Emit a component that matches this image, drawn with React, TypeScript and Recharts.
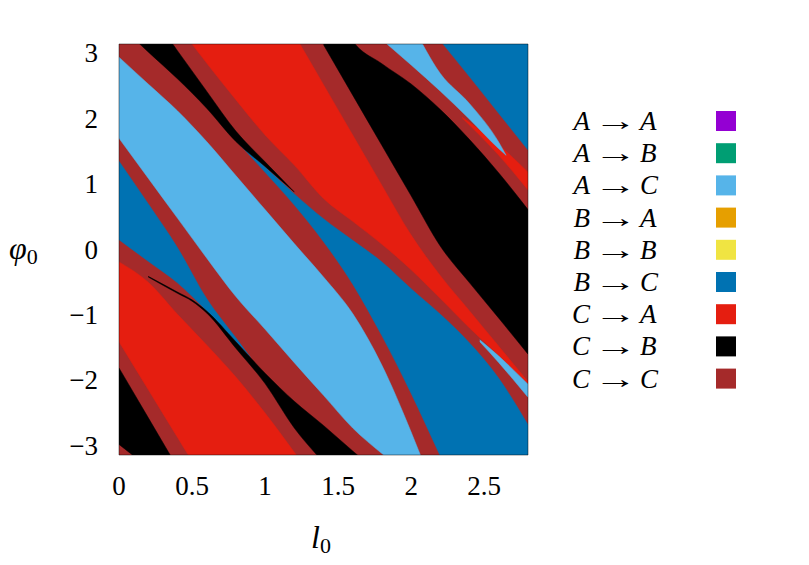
import { ComposedChart, Area, XAxis, YAxis, CartesianGrid, ReferenceArea } from 'recharts';

type Band = [number, number, number][]; // [l0, lower phi0, upper phi0]

const PI = Math.PI;

// transition colours (C -> C is the background of the map)
const legendFrom = ['A', 'A', 'A', 'B', 'B', 'B', 'C', 'C', 'C'];
const legendTo = ['A', 'B', 'C', 'A', 'B', 'C', 'A', 'B', 'C'];
const legendColors = ['#9400d3', '#009e73', '#56b4e9', '#e69f00', '#f0e442', '#0072b2', '#e51e10', '#000000', '#a52a2a'];

const CA = '#e51e10';
const CB = '#000000';
const AC = '#56b4e9';
const BC = '#0072b2';
const CC = '#a52a2a';

const xTicks = [0, 0.5, 1, 1.5, 2, 2.5];
const yTicks = [-3, -2, -1, 0, 1, 2, 3];

// bands, lower left to upper right
const blackCorner: Band = [[0, -2.98, -1.81], [0.2, -3.33, -2.57], [0.4, -3.67, -3.33]];
const redLow: Band = [
  [0, -1.41, -0.19], [0.2, -2.14, -0.5], [0.4, -2.87, -0.99], [0.6, -3.6, -1.46],
  [0.8, -4.33, -1.95], [1.0, -5.06, -2.5], [1.2, -5.8, -3.1], [1.3, -6.2, -3.41],
];
const blueLeft: Band = [
  [0, 0.15, 1.35], [0.2, -0.18, 0.7], [0.4, -0.51, 0.03], [0.6, -0.94, -0.75],
  [0.8, -1.41, -1.35], [0.9, -1.65, -1.65],
];
const blackMid: Band = [
  [0.2, -0.42, -0.41], [0.4, -0.67, -0.65], [0.5, -0.79, -0.77],
  [0.6, -0.97, -0.94], [0.8, -1.51, -1.41], [1.0, -2.05, -1.89], [1.2, -2.73, -2.32],
  [1.4, -3.26, -2.69], [1.6, -3.79, -3.08], [1.7, -4.05, -3.27],
];
const lightMain: Band = [
  [0, 1.7, 2.94], [0.2, 1.09, 2.53], [0.4, 0.48, 2.12], [0.6, -0.13, 1.65],
  [0.8, -0.72, 1.13], [1.0, -1.22, 0.61], [1.2, -1.73, 0.09], [1.4, -2.23, -0.42],
  [1.6, -2.73, -0.98], [1.8, -3.12, -1.77], [2.0, -3.47, -2.79], [2.1, -3.66, -3.35],
];
const blueMain: Band = [
  [0.78, 1.72, 1.72], [1.0, 1.18, 1.26], [1.2, 0.68, 0.85], [1.4, 0.12, 0.47],
  [1.6, -0.53, 0.14], [1.8, -1.32, -0.19], [2.0, -2.2, -0.6], [2.2, -3.16, -0.99],
  [2.4, -4.13, -1.43], [2.6, -5.05, -1.97], [2.8, -5.96, -2.68],
];
const blackTop: Band = [
  [0.1, 3.23, 3.98], [0.2, 3.02, 3.67], [0.4, 2.61, 3.04], [0.6, 2.16, 2.42],
  [0.8, 1.65, 1.81], [1.0, 1.27, 1.34], [1.2, 0.88, 0.88],
];
const redMain: Band = [
  [0.5, 3.14, 5.98], [0.6, 2.85, 5.6], [0.8, 2.29, 4.83], [1.0, 1.75, 4.06],
  [1.2, 1.29, 3.29], [1.4, 0.78, 2.52], [1.6, 0.43, 1.75], [1.8, 0.08, 0.98],
  [2.0, -0.31, 0.22], [2.2, -0.75, -0.4], [2.4, -1.2, -0.94], [2.6, -1.62, -1.48],
  [2.8, -2.05, -2.02],
];
const blackRight: Band = [
  [1.4, 3.13, 4.11], [1.6, 2.36, 3.19], [1.8, 1.59, 2.84], [2.0, 0.82, 2.53],
  [2.2, 0.05, 2.14], [2.4, -0.51, 1.68], [2.6, -1.05, 1.17], [2.8, -1.6, 0.61],
];
const redSliver: Band = [[2.35, 2.01, 2.02], [2.6, 1.44, 1.6], [2.8, 0.91, 1.18]];
const lightTop: Band = [
  [1.83, 3.15, 4.09], [2.0, 2.82, 3.45], [2.2, 2.42, 2.69], [2.4, 1.99, 2.23],
  [2.6, 1.54, 1.64], [2.65, 1.44, 1.44],
];
const blueTop: Band = [[2.2, 3.19, 5], [2.4, 2.64, 5], [2.6, 2.08, 5], [2.8, 1.52, 5]];
const lightSliver: Band = [[2.47, -1.41, -1.38], [2.6, -1.73, -1.63], [2.8, -2.26, -2.06]];

const bands: { id: string; data: Band; color: string }[] = [
  { id: 'blackCorner', data: blackCorner, color: CB },
  { id: 'redLow', data: redLow, color: CA },
  { id: 'blueLeft', data: blueLeft, color: BC },
  { id: 'blackMid', data: blackMid, color: CB },
  { id: 'lightMain', data: lightMain, color: AC },
  { id: 'blueMain', data: blueMain, color: BC },
  { id: 'blackTop', data: blackTop, color: CB },
  { id: 'redMain', data: redMain, color: CA },
  { id: 'blackRight', data: blackRight, color: CB },
  { id: 'redSliver', data: redSliver, color: CA },
  { id: 'lightTop', data: lightTop, color: AC },
  { id: 'blueTop', data: blueTop, color: BC },
  { id: 'lightSliver', data: lightSliver, color: AC },
];

const FONT = '"Liberation Serif", "DejaVu Serif", serif';

const fmt = (v: number) => (v < 0 ? `\u2212${Math.abs(v)}` : `${v}`);

const XTick = ({ x, y, payload }: any) => (
  <text x={x} y={y + 40} textAnchor="middle" fontFamily={FONT} fontSize={27} fill="#000">
    {fmt(payload.value)}
  </text>
);

const YTick = ({ x, y, payload }: any) => (
  <text x={x - 21} y={y + 9} textAnchor="end" fontFamily={FONT} fontSize={27} fill="#000">
    {fmt(payload.value)}
  </text>
);

export default function App() {
  return (
    <div style={{ position: 'absolute', left: 0, top: 0, width: 809, height: 565, background: '#fff' }}>
      <ComposedChart width={809} height={565} margin={{ top: 44, right: 281, bottom: 50, left: 59 }}>
        <CartesianGrid horizontal={false} vertical={false} fill={CC} stroke="none" />
        <XAxis
          type="number"
          dataKey="x"
          domain={[0, 2.8]}
          ticks={xTicks}
          allowDataOverflow
          axisLine={false}
          tickLine={false}
          tickSize={0}
          tickMargin={0}
          height={60}
          tick={<XTick />}
        />
        <YAxis
          type="number"
          domain={[-PI, PI]}
          ticks={yTicks}
          allowDataOverflow
          axisLine={false}
          tickLine={false}
          tickSize={0}
          tickMargin={0}
          width={60}
          tick={<YTick />}
        />
        {bands.map((b) => (
          <Area
            key={b.id}
            data={b.data.map(([x, lo, hi]) => ({ x, r: [lo, hi] }))}
            dataKey="r"
            type="monotone"
            fill={b.color}
            fillOpacity={1}
            stroke={b.color}
            strokeWidth={0.5}
            dot={false}
            activeDot={false}
            isAnimationActive={false}
          />
        ))}
        <ReferenceArea x1={0} x2={2.8} y1={-PI} y2={PI} fill="none" stroke="#000" strokeOpacity={0.45} strokeWidth={1} />
      </ComposedChart>
      <svg width={809} height={565} style={{ position: 'absolute', left: 0, top: 0, pointerEvents: 'none' }}>
        <text x={9} y={259} fontFamily={FONT} fontSize={32} fill="#000">
          <tspan fontStyle="italic">φ</tspan>
          <tspan fontSize={22} dy={5}>0</tspan>
        </text>
        <text x={311} y={548} fontFamily={FONT} fontSize={32} fill="#000">
          <tspan fontStyle="italic">l</tspan>
          <tspan fontSize={22} dy={5}>0</tspan>
        </text>
        {legendFrom.map((f, i) => {
          const cy = 121 + i * 32.2;
          return (
            <g key={i}>
              <text x={590} y={cy + 9} textAnchor="end" fontFamily={FONT} fontSize={27} fontStyle="italic" fill="#000">
                {f}
              </text>
              <text
                transform={`translate(615, ${cy + 9}) scale(1.6, 1)`}
                textAnchor="middle"
                fontFamily={FONT}
                fontSize={27}
                fill="#000"
              >
                {'\u2192'}
              </text>
              <text x={640} y={cy + 9} fontFamily={FONT} fontSize={27} fontStyle="italic" fill="#000">
                {legendTo[i]}
              </text>
              <rect x={716} y={cy - 10} width={20} height={20} fill={legendColors[i]} />
            </g>
          );
        })}
      </svg>
    </div>
  );
}
